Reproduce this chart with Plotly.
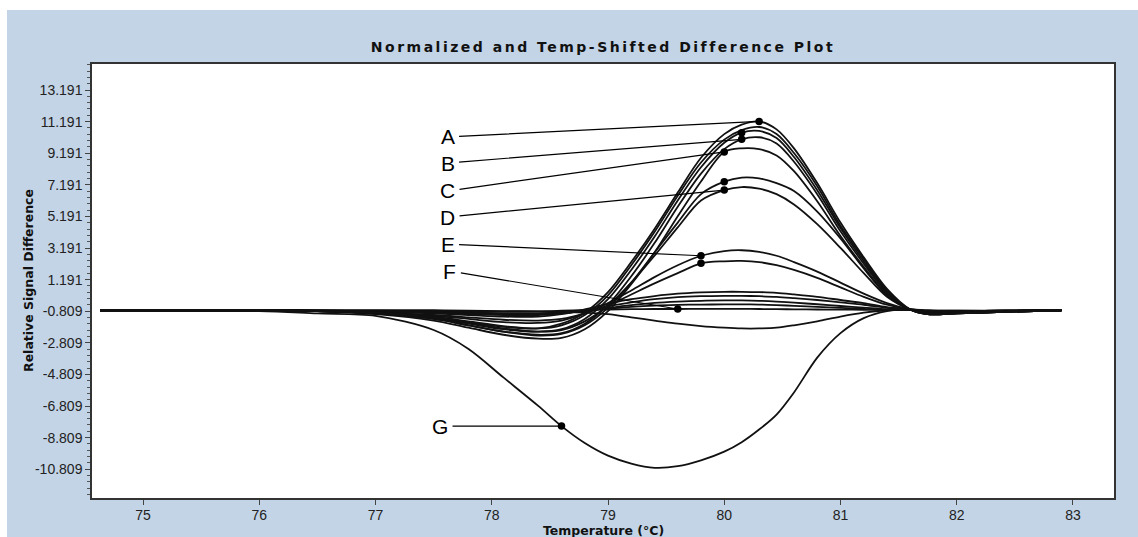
import plotly.graph_objects as go

# ---------------- data ----------------
TEMP = [74.63, 76.0, 76.5, 77.0, 77.5, 77.8, 78.1, 78.4, 78.6, 78.8, 79.0, 79.2, 79.4, 79.6,
        79.8, 80.0, 80.15, 80.3, 80.45, 80.6, 80.8, 81.0, 81.2, 81.4, 81.6, 81.75, 82.0, 82.4, 82.9]

curve_a  = [-0.75,-0.75,-0.8,-0.9,-1.2,-1.5,-1.8,-1.9,-1.6,-0.9,0.4,2.3,4.4,6.7,8.9,10.4,11.0,11.2,10.7,9.5,7.3,4.8,2.6,0.6,-0.7,-1.0,-0.95,-0.85,-0.75]
curve_a2 = [-0.75,-0.75,-0.8,-0.9,-1.15,-1.45,-1.75,-1.9,-1.7,-1.05,0.2,2.1,4.2,6.5,8.6,10.05,10.65,10.85,10.4,9.2,7.1,4.6,2.5,0.5,-0.7,-1.0,-0.95,-0.85,-0.75]
curve_b1 = [-0.75,-0.75,-0.8,-0.95,-1.25,-1.6,-1.95,-2.1,-1.95,-1.3,-0.05,1.8,3.9,6.2,8.3,9.85,10.49,10.6,10.15,8.95,6.85,4.45,2.35,0.45,-0.7,-1.0,-0.95,-0.85,-0.75]
curve_b2 = [-0.75,-0.75,-0.8,-0.95,-1.3,-1.7,-2.1,-2.3,-2.2,-1.6,-0.4,1.4,3.5,5.8,7.9,9.45,10.07,10.2,9.8,8.65,6.6,4.25,2.2,0.35,-0.7,-1.0,-0.95,-0.85,-0.75]
curve_c  = [-0.75,-0.75,-0.8,-1.0,-1.4,-1.85,-2.3,-2.55,-2.5,-1.95,-0.8,0.9,2.9,5.2,7.4,9.27,9.5,9.45,9.05,8.05,6.15,3.95,2.0,0.25,-0.7,-1.0,-0.95,-0.85,-0.75]
curve_d1 = [-0.75,-0.75,-0.8,-0.95,-1.3,-1.7,-2.1,-2.35,-2.25,-1.7,-0.6,1.0,2.9,4.8,6.6,7.39,7.65,7.6,7.3,6.8,5.5,3.8,1.9,0.2,-0.7,-0.95,-0.9,-0.85,-0.75]
curve_d2 = [-0.75,-0.75,-0.8,-0.9,-1.2,-1.55,-1.9,-2.1,-2.0,-1.45,-0.45,1.0,2.7,4.5,6.2,6.86,7.05,6.95,6.6,5.95,4.7,3.2,1.6,0.1,-0.7,-0.95,-0.9,-0.85,-0.75]
curve_e1 = [-0.75,-0.75,-0.8,-0.9,-1.1,-1.3,-1.5,-1.55,-1.4,-0.95,-0.3,0.5,1.35,2.1,2.7,3.0,3.05,2.95,2.7,2.3,1.7,1.0,0.3,-0.3,-0.7,-0.9,-0.85,-0.8,-0.75]
curve_e2 = [-0.75,-0.75,-0.8,-0.9,-1.05,-1.2,-1.35,-1.4,-1.3,-0.95,-0.45,0.25,0.95,1.6,2.22,2.35,2.37,2.3,2.1,1.8,1.3,0.7,0.1,-0.4,-0.7,-0.9,-0.85,-0.8,-0.75]
curve_s1 = [-0.75,-0.75,-0.8,-0.85,-0.95,-1.05,-1.15,-1.15,-1.0,-0.7,-0.35,-0.05,0.15,0.3,0.38,0.42,0.42,0.4,0.35,0.25,0.1,-0.1,-0.3,-0.55,-0.7,-0.8,-0.8,-0.78,-0.75]
curve_s2 = [-0.75,-0.75,-0.78,-0.82,-0.9,-1.0,-1.05,-1.05,-0.95,-0.75,-0.5,-0.25,-0.05,0.08,0.14,0.16,0.16,0.14,0.1,0.02,-0.1,-0.25,-0.4,-0.6,-0.7,-0.8,-0.8,-0.78,-0.75]
curve_s3 = [-0.75,-0.75,-0.78,-0.82,-0.88,-0.95,-1.0,-1.0,-0.92,-0.8,-0.6,-0.42,-0.28,-0.2,-0.15,-0.13,-0.13,-0.15,-0.2,-0.27,-0.37,-0.48,-0.58,-0.68,-0.72,-0.8,-0.8,-0.78,-0.75]
curve_s4 = [-0.75,-0.75,-0.77,-0.8,-0.85,-0.9,-0.93,-0.93,-0.88,-0.78,-0.65,-0.53,-0.45,-0.41,-0.39,-0.38,-0.38,-0.39,-0.42,-0.47,-0.53,-0.6,-0.66,-0.72,-0.74,-0.8,-0.8,-0.78,-0.75]
curve_f  = [-0.75,-0.75,-0.76,-0.78,-0.8,-0.82,-0.83,-0.82,-0.78,-0.73,-0.7,-0.68,-0.67,-0.67,-0.66,-0.66,-0.66,-0.67,-0.68,-0.69,-0.7,-0.71,-0.72,-0.73,-0.74,-0.78,-0.78,-0.77,-0.75]
curve_s6 = [-0.75,-0.75,-0.75,-0.75,-0.75,-0.78,-0.8,-0.82,-0.85,-0.9,-1.0,-1.2,-1.4,-1.6,-1.75,-1.85,-1.9,-1.9,-1.85,-1.7,-1.45,-1.15,-0.9,-0.75,-0.7,-0.75,-0.78,-0.78,-0.75]
curve_g  = [-0.75,-0.8,-0.95,-1.1,-2.0,-3.2,-5.0,-6.8,-8.08,-9.15,-9.95,-10.45,-10.72,-10.62,-10.25,-9.7,-9.1,-8.3,-7.35,-5.95,-3.75,-2.2,-1.25,-0.8,-0.7,-0.8,-0.85,-0.8,-0.75]

ALL_CURVES = [curve_g, curve_s6, curve_f, curve_s4, curve_s3, curve_s2, curve_s1,
              curve_e2, curve_e1, curve_d2, curve_d1, curve_c, curve_b2, curve_b1, curve_a2, curve_a]

# marked points: (curve, index into TEMP)
MARKED = [(curve_a, 17), (curve_b1, 16), (curve_b2, 16), (curve_c, 15), (curve_d1, 15),
          (curve_d2, 15), (curve_e1, 14), (curve_e2, 14), (curve_f, 13), (curve_g, 8)]

# labels: text, label position (x, y), target (curve, index)
LABEL_TEXT = ["A", "B", "C", "D", "E", "F", "G"]
LABEL_X    = [77.62, 77.62, 77.62, 77.62, 77.62, 77.64, 77.555]
LABEL_Y    = [10.22, 8.57, 6.80, 5.15, 3.44, 1.73, None]
LABEL_TARGET = [(curve_a, 17), (curve_b2, 16), (curve_c, 15), (curve_d2, 15),
                (curve_e1, 14), (curve_f, 13), (curve_g, 8)]

X_TICKS = [75, 76, 77, 78, 79, 80, 81, 82, 83]
Y_TICKS = [13.191, 11.191, 9.191, 7.191, 5.191, 3.191, 1.191, -0.809, -2.809, -4.809, -6.809, -8.809, -10.809]
Y_TICK_TEXT = ["13.191", "11.191", "9.191", "7.191", "5.191", "3.191", "1.191", "-0.809",
               "-2.809", "-4.809", "-6.809", "-8.809", "-10.809"]

X_TITLE = "Temperature (°C)"
Y_TITLE = "Relative Signal Difference"
TITLE = "Normalized and Temp-Shifted Difference Plot"

# ---------------- figure ----------------
fig = go.Figure()
for ys in ALL_CURVES:
    fig.add_trace(go.Scatter(x=TEMP, y=ys, mode="lines",
                             line=dict(color="#111111", width=1.8, shape="spline", smoothing=0.9),
                             showlegend=False, hoverinfo="skip"))

fig.add_trace(go.Scatter(x=[TEMP[i] for c, i in MARKED], y=[c[i] for c, i in MARKED],
                         mode="markers", marker=dict(color="black", size=7.5),
                         showlegend=False, hoverinfo="skip"))

annos = []
for txt, lx, ly, (c, i) in zip(LABEL_TEXT, LABEL_X, LABEL_Y, LABEL_TARGET):
    annos.append(dict(x=TEMP[i], y=c[i], xref="x", yref="y",
                      ax=lx, ay=(ly if ly is not None else c[i]), axref="x", ayref="y",
                      text=txt, showarrow=True, arrowhead=0, arrowwidth=1.2,
                      arrowcolor="black", standoff=0, startstandoff=4, borderpad=0,
                      font=dict(family="Liberation Sans, Arial, sans-serif", size=21, color="black")))

axis_title_font = dict(family="DejaVu Sans, sans-serif", size=12.5, color="#111111", weight="bold")
annos.append(dict(text=Y_TITLE, xref="paper", yref="paper", x=(28 - 92) / 1022, y=0.5,
                  textangle=-90, showarrow=False, xanchor="center", yanchor="middle",
                  font=axis_title_font))
annos.append(dict(text=X_TITLE, xref="paper", yref="paper", x=0.5, y=(498 - 530) / 434,
                  showarrow=False, xanchor="center", yanchor="middle", font=axis_title_font))

tickfont = dict(family="Liberation Sans, Arial, sans-serif", size=14, color="#222222")
axis_common = dict(showline=True, linecolor="#333333", linewidth=1.5, mirror=True,
                   showgrid=False, zeroline=False, ticks="outside", ticklen=5,
                   tickcolor="#444444", tickfont=tickfont)

fig.update_layout(
    width=1138, height=537,
    margin=dict(l=92, r=24, t=64, b=39),
    paper_bgcolor="#c3d4e6", plot_bgcolor="white",
    title=dict(text='<span style="letter-spacing:2.5px">' + TITLE + '</span>',
               x=0.5, xref="paper", y=1 - 47 / 537, yref="container", yanchor="middle",
               font=dict(family="DejaVu Sans, sans-serif", size=14, color="#111111",
                         weight="bold")),
    xaxis=dict(range=[74.561, 83.353], tickmode="array", tickvals=X_TICKS,
               ticktext=[str(t) for t in X_TICKS], ticklabelstandoff=-2, **axis_common),
    yaxis=dict(range=[-12.632, 14.837], tickmode="array", tickvals=Y_TICKS, ticktext=Y_TICK_TEXT,
               minor=dict(tickmode="linear", tick0=-0.809, dtick=0.4, ticks="outside",
                          ticklen=3, tickcolor="#555555"),
               **axis_common),
    annotations=annos,
    shapes=[
        dict(type="rect", xref="paper", yref="paper", x0=-0.2, x1=1.2, y0=(498 - 10) / 434, y1=1.3,
             fillcolor="white", line=dict(width=0), layer="below"),
        dict(type="rect", xref="paper", yref="paper", x0=-0.2, x1=(7 - 92) / 1022, y0=-0.2, y1=1.3,
             fillcolor="white", line=dict(width=0), layer="below"),
    ],
)

fig.write_html("out.html")
